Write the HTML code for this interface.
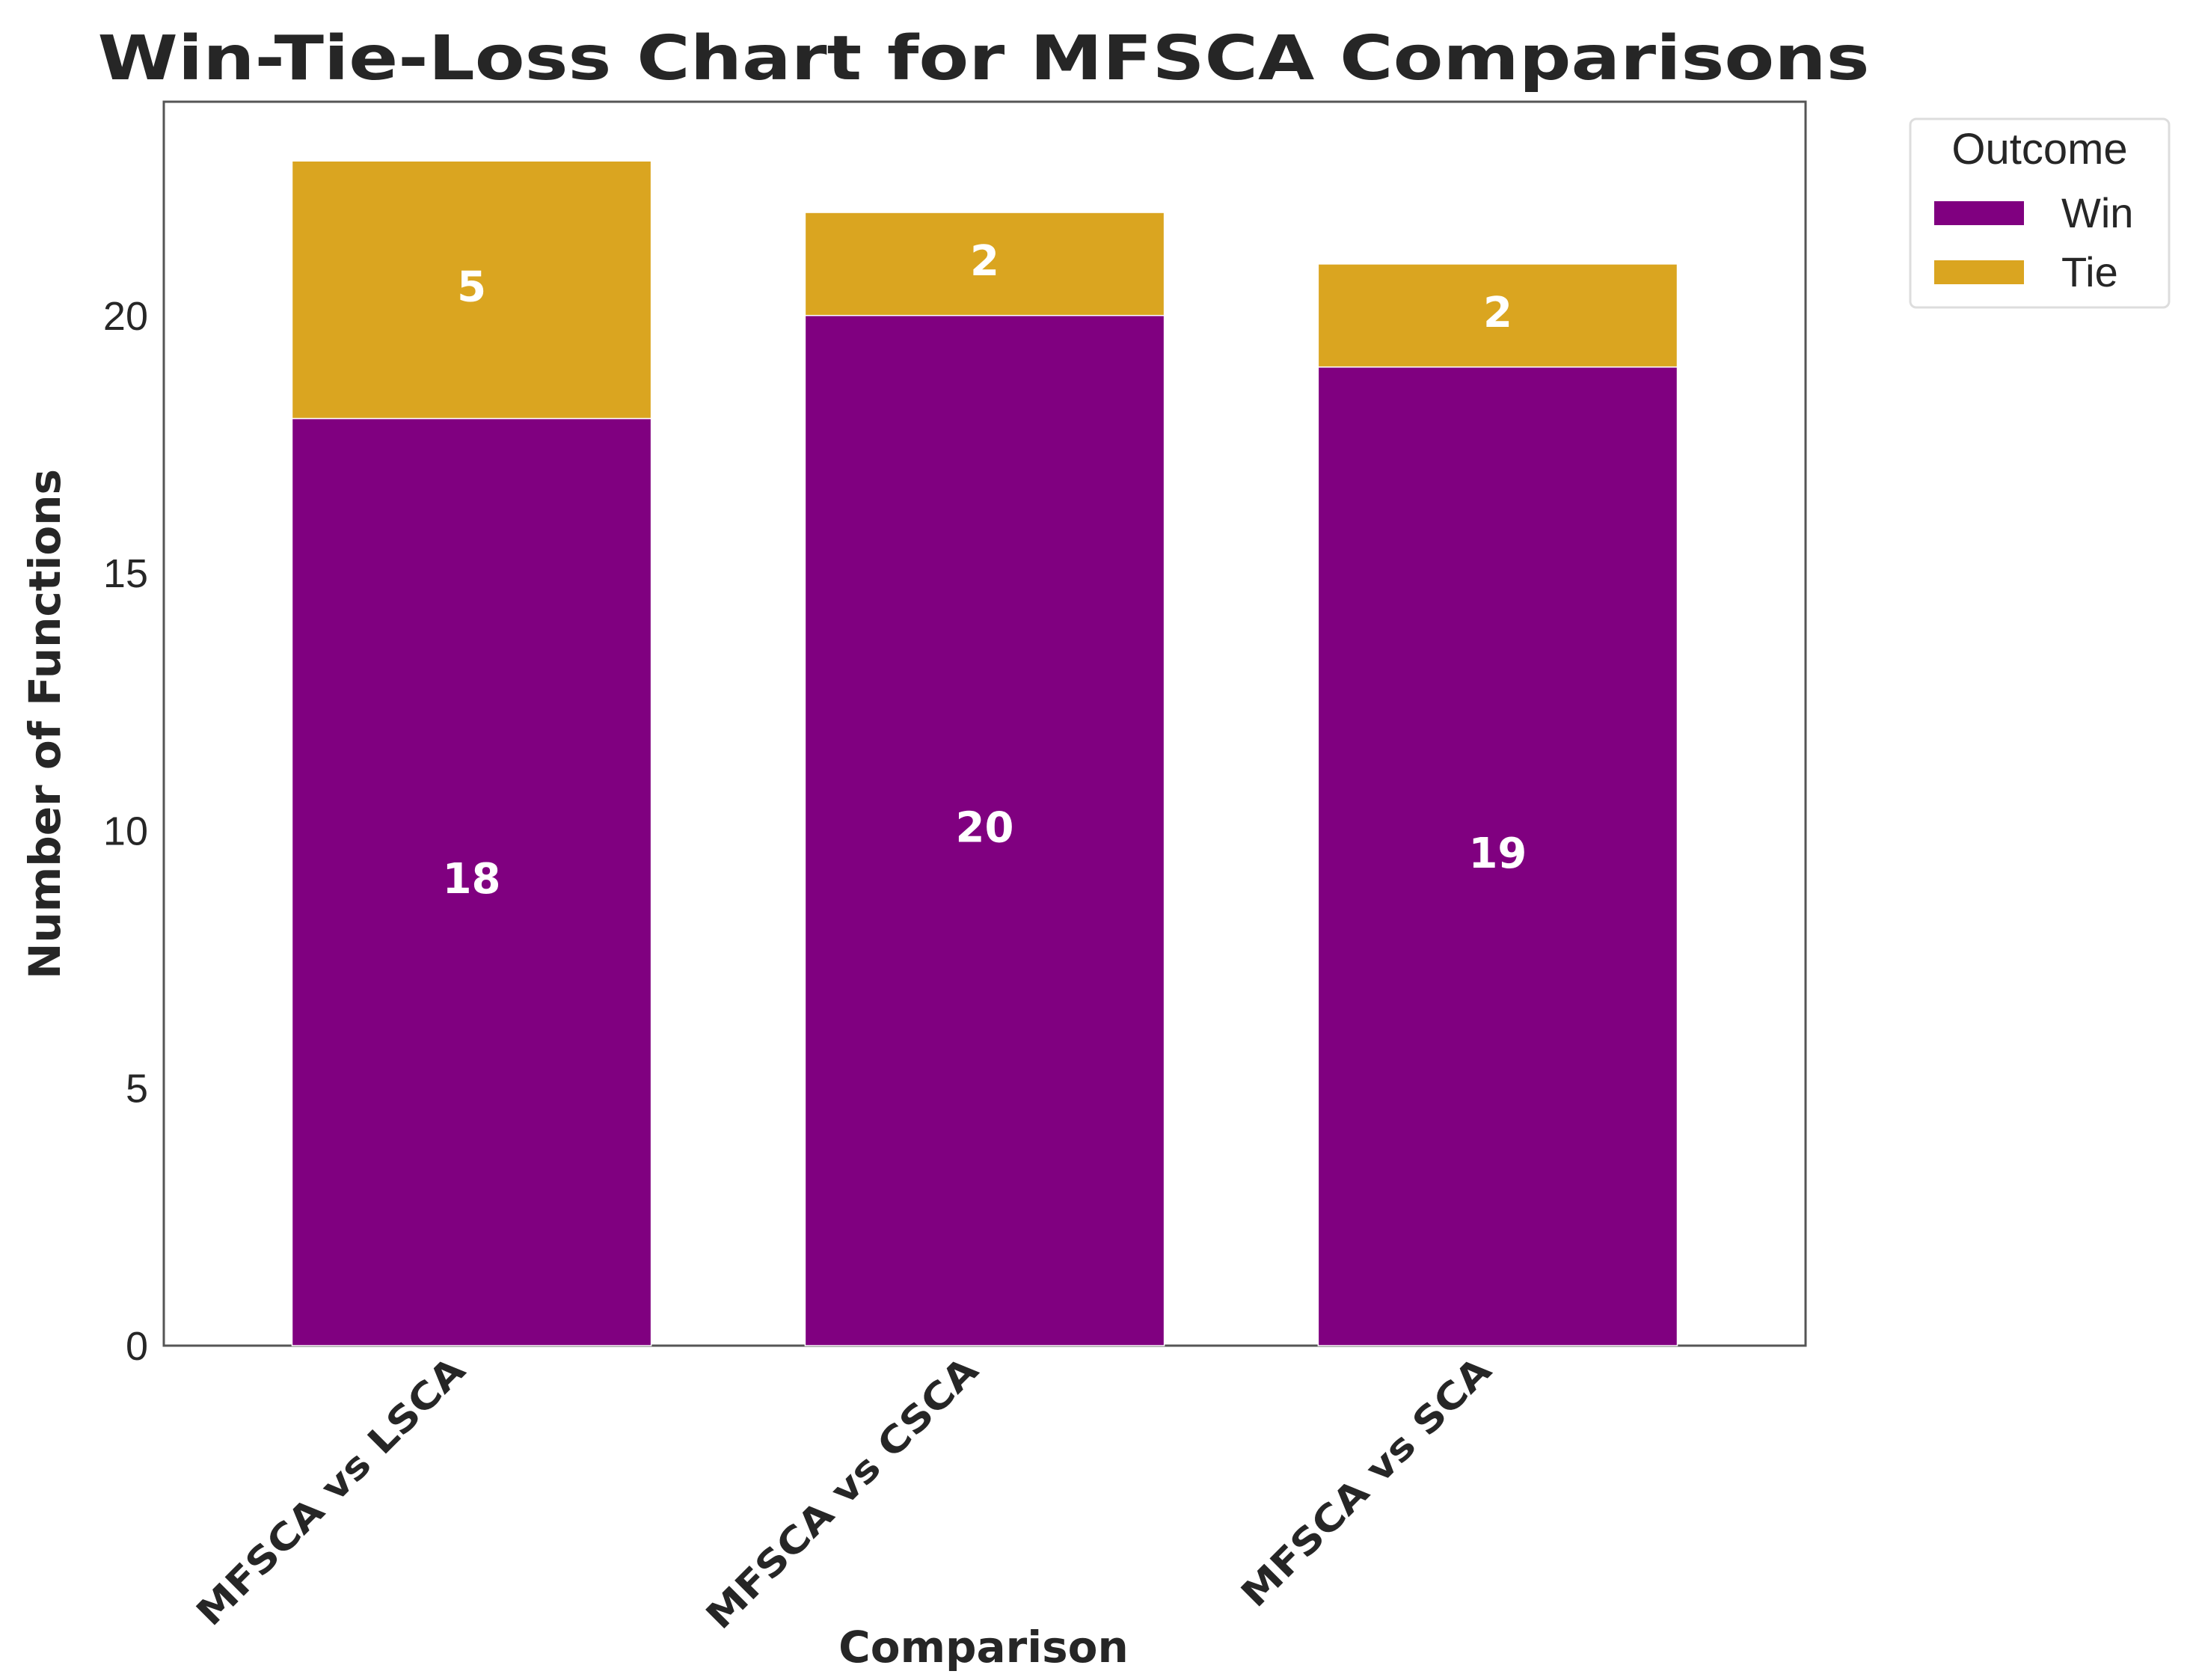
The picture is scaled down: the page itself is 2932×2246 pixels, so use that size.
<!DOCTYPE html>
<html><head><meta charset="utf-8"><style>
html,body{margin:0;padding:0;background:#fff;}
svg{display:block;}
</style></head><body>
<svg id="chart" width="2932" height="2246" viewBox="0 0 2932 2246" xmlns="http://www.w3.org/2000/svg">
<text x="1315" y="106" text-anchor="middle" font-family="DejaVu Sans, Liberation Sans, sans-serif" font-weight="bold" font-size="82" fill="#262626" textLength="2369" lengthAdjust="spacingAndGlyphs">Win-Tie-Loss Chart for MFSCA Comparisons</text>
<rect x="219" y="136" width="2195" height="1663" fill="#fff" stroke="#555" stroke-width="3"/>
<g id="bars"></g>
<g id="yticks"></g>
<g id="xticks"></g>
<text transform="translate(80,968) rotate(-90)" text-anchor="middle" font-family="DejaVu Sans, Liberation Sans, sans-serif" font-weight="bold" font-size="58" fill="#262626">Number of Functions</text>
<text x="1315" y="2222" text-anchor="middle" font-family="DejaVu Sans, Liberation Sans, sans-serif" font-weight="bold" font-size="58" fill="#262626">Comparison</text>
<g>
<rect x="2554" y="159" width="346" height="252" rx="8" fill="#fff" stroke="#ddd" stroke-width="3"/>
<text x="2727" y="219" text-anchor="middle" font-family="Liberation Sans, sans-serif" font-size="58" fill="#262626">Outcome</text>
<rect x="2586" y="269" width="120" height="32" fill="#800080"/>
<text x="2756" y="304" font-family="Liberation Sans, sans-serif" font-size="56" fill="#262626">Win</text>
<rect x="2586" y="348" width="120" height="32" fill="#DAA520"/>
<text x="2756" y="383" font-family="Liberation Sans, sans-serif" font-size="56" fill="#262626">Tie</text>
</g>
</svg>
<script>
const categories = ["MFSCA vs LSCA", "MFSCA vs CSCA", "MFSCA vs SCA"];
const winValues = [18, 20, 19];
const tieValues = [5, 2, 2];
const yTickValues = [0, 5, 10, 15, 20];

const NS = "http://www.w3.org/2000/svg";
const plotL = 219, plotR = 2414, plotT = 136, plotB = 1799;
const yMax = 24.15, xMin = -0.6, xMax = 2.6, barW = 0.7;
function yScale(v){ return plotB - v / yMax * (plotB - plotT); }
function xScale(i){ return plotL + (i - xMin) / (xMax - xMin) * (plotR - plotL); }
function mk(tag, attrs){ const e = document.createElementNS(NS, tag); for (const k in attrs) e.setAttribute(k, attrs[k]); return e; }

const bars = document.getElementById("bars");
const unitW = (plotR - plotL) / (xMax - xMin);
categories.forEach((c, i) => {
  const x0 = xScale(i) - barW * unitW / 2, w = barW * unitW;
  const w0 = yScale(0), w1 = yScale(winValues[i]), t1 = yScale(winValues[i] + tieValues[i]);
  const rw = mk("rect", {x: x0, y: w1, width: w, height: w0 - w1, fill: "#800080", stroke: "#fff", "stroke-width": 1.5});
  
  
  bars.appendChild(rw);
  const rt = mk("rect", {x: x0, y: t1, width: w, height: w1 - t1, fill: "#DAA520", stroke: "#fff", "stroke-width": 1.5});
  
  
  bars.appendChild(rt);
  const lw = mk("text", {x: xScale(i), y: (w0 + w1) / 2 + 15, "text-anchor": "middle", "font-family": "DejaVu Sans, Liberation Sans, sans-serif", "font-weight": "bold", "font-size": 56, fill: "#fff"});
  lw.textContent = winValues[i];
  
  
  bars.appendChild(lw);
  const lt = mk("text", {x: xScale(i), y: (w1 + t1) / 2 + 15, "text-anchor": "middle", "font-family": "DejaVu Sans, Liberation Sans, sans-serif", "font-weight": "bold", "font-size": 56, fill: "#fff"});
  lt.textContent = tieValues[i];
  
  
  bars.appendChild(lt);
});

const yt = document.getElementById("yticks");
yTickValues.forEach(v => {
  const t = mk("text", {x: 198, y: yScale(v) + 19, "text-anchor": "end", "font-family": "Liberation Sans, sans-serif", "font-size": 54, fill: "#262626"});
  t.textContent = v;
  
  
  yt.appendChild(t);
});

const xt = document.getElementById("xticks");
categories.forEach((c, i) => {
  const x = xScale(i) - 6, y = 1835;
  const t = mk("text", {x: x, y: y, "text-anchor": "end", transform: "rotate(-45 " + x + " " + y + ")", "font-family": "DejaVu Sans, Liberation Sans, sans-serif", "font-weight": "bold", "font-size": 49, fill: "#262626"});
  t.textContent = c;
  
  
  xt.appendChild(t);
  const len = t.getComputedTextLength();
  t.setAttribute("textLength", len * 1.13);
  t.setAttribute("lengthAdjust", "spacingAndGlyphs");
});
</script>
</body></html>
